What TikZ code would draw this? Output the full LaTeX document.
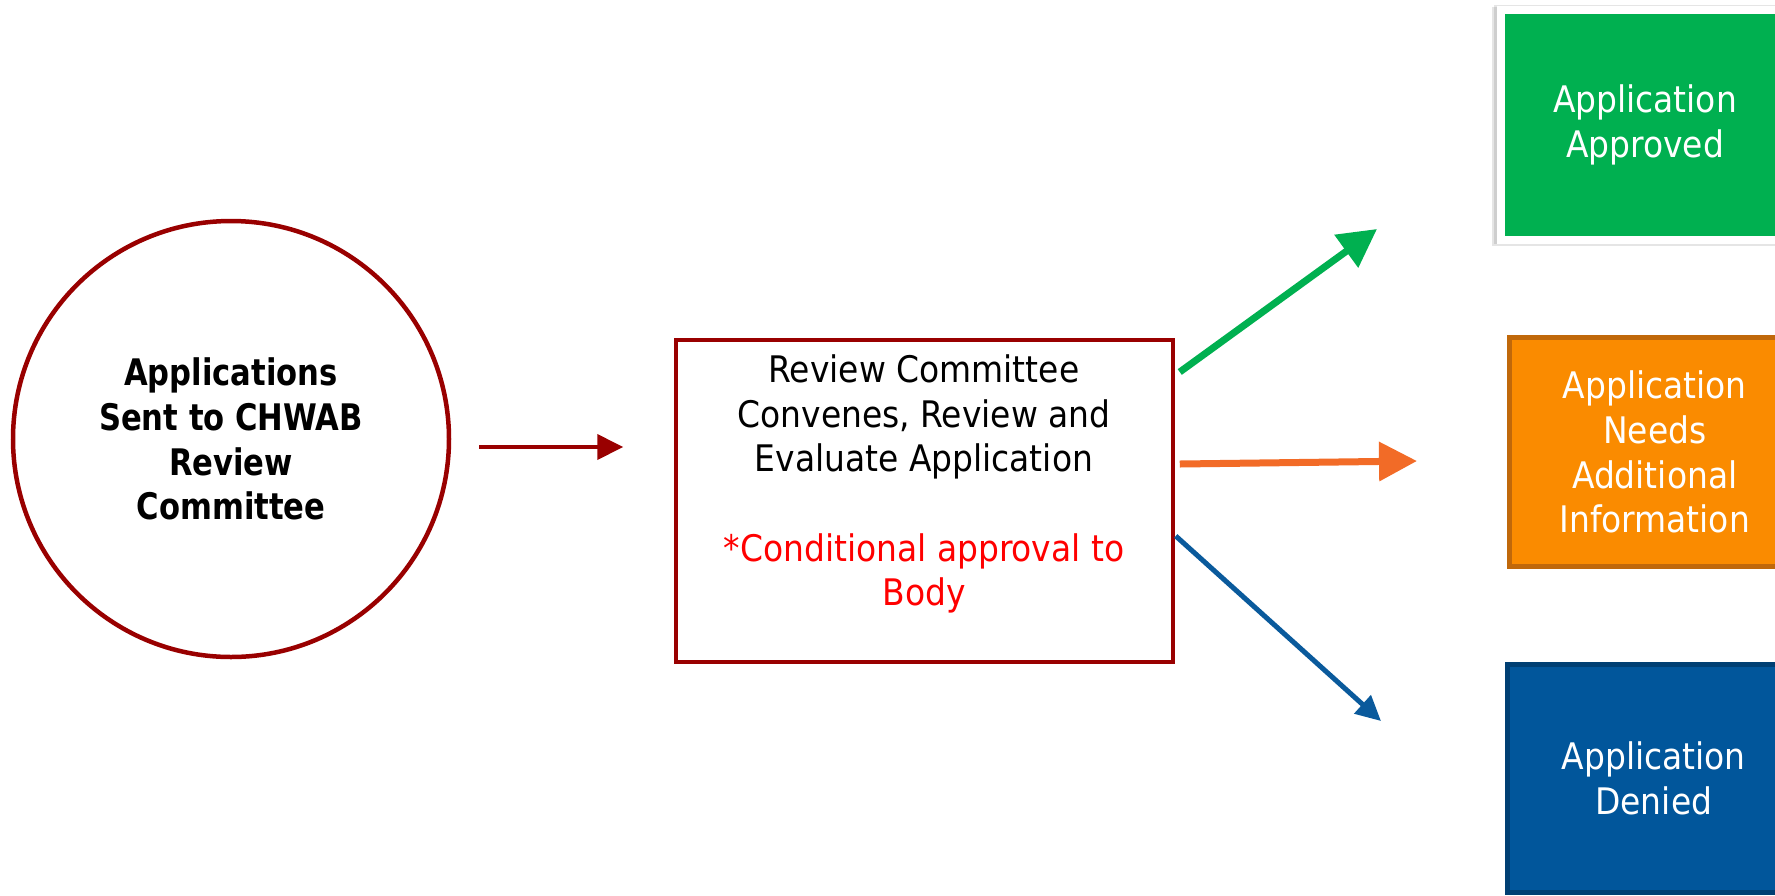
\documentclass[tikz,border=0pt]{standalone}
\usepackage{fontspec}
\setmainfont{DejaVu Sans Condensed}[BoldFont={DejaVu Sans Condensed Bold}]
\newfontfamily\circfont{DejaVu Sans Condensed Bold}[FakeStretch=0.93]
\usetikzlibrary{arrows.meta}

\definecolor{maroon}{HTML}{990000}
\definecolor{okgreen}{HTML}{00B050}
\definecolor{arrorange}{HTML}{F26B27}
\definecolor{boxorange}{HTML}{FA8B00}
\definecolor{edgeorange}{HTML}{C0680A}
\definecolor{boxblue}{HTML}{01569B}
\definecolor{edgeblue}{HTML}{003F73}
\definecolor{arrblue}{HTML}{0A5A9C}

\tikzset{
  bodytext/.style={font=\fontsize{36.6}{44.7}\selectfont, align=center, inner sep=0pt},
  startcircle/.style={circle, draw=maroon, line width=4.5pt, fill=white,
    minimum size=436pt, inner sep=0pt, align=center,
    font=\circfont\fontsize{36.6}{44.7}\selectfont},
  reviewbox/.style={rectangle, draw=maroon, line width=3.5pt,
    minimum width=497pt, minimum height=322pt, inner sep=0pt},
  outcome/.style={rectangle, bodytext, text=white, inner sep=0pt},
  approvedbox/.style={outcome, fill=okgreen, draw=white, line width=8pt,
    minimum width=288pt, minimum height=230pt},
  infobox/.style={outcome, fill=boxorange, draw=edgeorange, line width=5pt,
    minimum width=291pt, minimum height=229pt},
  deniedbox/.style={outcome, fill=boxblue, draw=edgeblue, line width=5pt,
    minimum width=293pt, minimum height=228pt},
  softshadow/.style={fill=black, opacity=0.10},
  flowarrow/.style={draw=maroon, line width=4pt,
    -{Triangle[length=26pt, width=25pt]}},
  yesarrow/.style={draw=okgreen, line width=7pt,
    -{Triangle[length=38pt, width=39pt]}},
  morearrow/.style={draw=arrorange, line width=7pt,
    -{Triangle[length=38pt, width=38pt]}},
  noarrow/.style={draw=arrblue, line width=5pt,
    -{Triangle[length=25pt, width=24pt]}},
}

\begin{document}
\begin{tikzpicture}[x=1pt, y=-1pt]
  \useasboundingbox (0,0) rectangle (1775,895);

  % submission and review
  \node[startcircle] (apps) at (231,439)
    {Applications\\Sent to CHWAB\\Review\\Committee};
  \node[reviewbox] (review) at (924.5,501) {};
  \node[bodytext] (reviewtxt) at (924,484)
    {Review Committee\\Convenes, Review and\\Evaluate Application\\[44.7pt]
     \textcolor{red}{*Conditional approval to}\\\textcolor{red}{Body}};

  % soft shadow behind the approved box
  \fill[softshadow] (1492,7) rectangle (1800,246);
  \fill[softshadow] (1494,5) rectangle (1800,244);

  % outcomes
  \node[approvedbox] (approved) at (1645,125) {Application\\Approved};
  \node[infobox] (moreinfo) at (1654.75,452)
    {Application\\Needs\\Additional\\Information};
  \node[deniedbox] (denied) at (1653.75,778.5) {Application\\Denied};

  % arrow tips stop short of the outcome boxes
  \coordinate (yestip) at (1377,229);
  \coordinate (moretip) at (1417,461);
  \coordinate (notip) at (1381,721);

  \draw[flowarrow, shorten <=28pt, shorten >=51pt]
    ([yshift=-8pt]apps.east) -- ([yshift=-8pt]apps.east -| review.west);
  \draw[yesarrow] ([xshift=5pt, yshift=129pt]review.east) -- (yestip);
  \draw[morearrow] ([xshift=5pt, yshift=37pt]review.east) -- (moretip);
  \draw[noarrow] ([xshift=1pt, yshift=-35pt]review.east) -- (notip);
\end{tikzpicture}
\end{document}
